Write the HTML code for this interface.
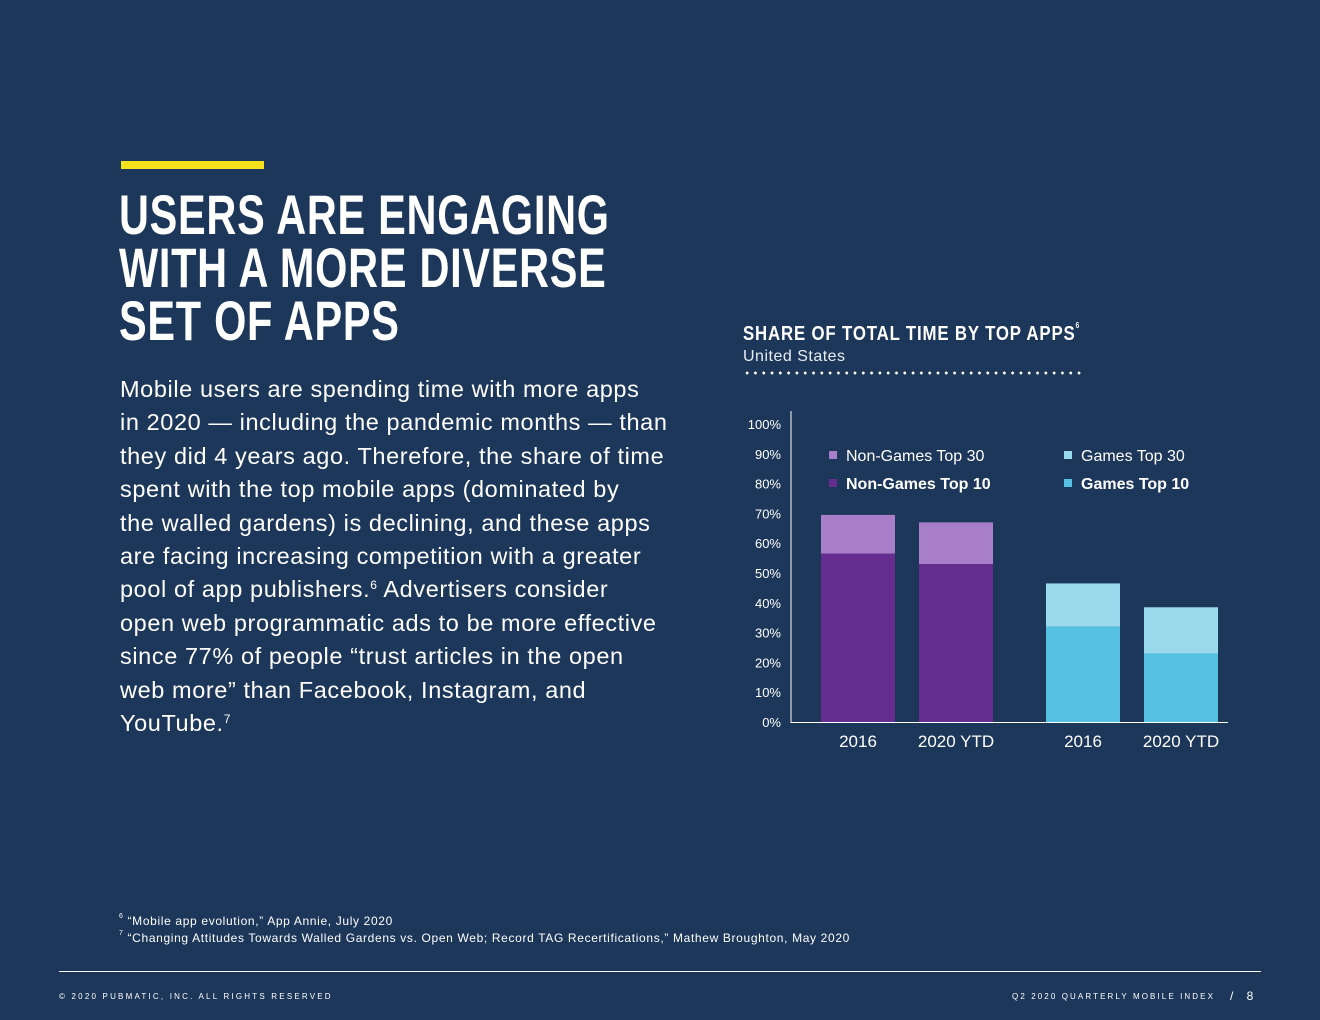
<!DOCTYPE html>
<html><head><meta charset="utf-8"><style>
body{margin:0;width:1320px;height:1020px;background:#1c375a;position:relative;overflow:hidden;font-family:"Liberation Sans",sans-serif;color:#fff}
.abs{position:absolute}
#title{left:119px;top:188px;font-weight:bold;font-size:56px;line-height:53px;letter-spacing:1px;white-space:nowrap;transform:scaleX(0.74);transform-origin:0 0}
#body{left:120px;top:373px;font-size:23.5px;line-height:33.4px;letter-spacing:0.6px;white-space:nowrap}
sup{font-size:12px;vertical-align:top;position:relative;top:-4px}
.fn{left:119px;font-size:12px;letter-spacing:0.65px}
</style></head><body>
<div class="abs" style="left:121px;top:161px;width:143px;height:8px;background:#f7e01c"></div>
<div id="title" class="abs">USERS ARE ENGAGING<br>WITH A MORE DIVERSE<br>SET OF APPS</div>
<div id="body" class="abs">Mobile users are spending time with more apps<br>in 2020 — including the pandemic months — than<br>they did 4 years ago. Therefore, the share of time<br>spent with the top mobile apps (dominated by<br>the walled gardens) is declining, and these apps<br>are facing increasing competition with a greater<br>pool of app publishers.<sup>6</sup> Advertisers consider<br>open web programmatic ads to be more effective<br>since 77% of people “trust articles in the open<br>web more” than Facebook, Instagram, and<br>YouTube.<sup>7</sup></div>
<div class="abs" style="left:743px;top:323px;font-weight:bold;font-size:20px;letter-spacing:1px;transform:scaleX(0.84);transform-origin:0 0;white-space:nowrap">SHARE OF TOTAL TIME BY TOP APPS<sup style="font-size:8px;top:-2px">6</sup></div>
<div class="abs" style="left:743px;top:348px;font-size:16px;letter-spacing:0.5px;color:#e8edf3">United States</div>
<div class="abs" style="left:743px;top:371px;width:342px;height:4px;background:radial-gradient(circle,#fff 1.3px,transparent 1.6px) 0 0/8.3px 4px repeat-x"></div>
<svg class="abs" style="left:0;top:0" width="1320" height="1020" id="chart"></svg>
<div class="abs fn" style="top:914px"><sup style="font-size:7px;top:-1px">6</sup> “Mobile app evolution,” App Annie, July 2020</div>
<div class="abs fn" style="top:931px"><sup style="font-size:7px;top:-1px">7</sup> “Changing Attitudes Towards Walled Gardens vs. Open Web; Record TAG Recertifications,” Mathew Broughton, May 2020</div>
<div class="abs" style="left:59px;top:971px;width:1202px;height:1px;background:#fff"></div>
<div class="abs" style="left:59px;top:992px;font-size:8px;letter-spacing:2.2px">© 2020 PUBMATIC, INC. ALL RIGHTS RESERVED</div>
<div class="abs" style="left:1012px;top:992px;font-size:8px;letter-spacing:2.1px">Q2 2020 QUARTERLY MOBILE INDEX</div>
<div class="abs" style="left:1230px;top:989px;font-size:12px">/&nbsp;&nbsp;&nbsp;&nbsp;8</div>
<script>
const categories=["2016","2020 YTD","2016","2020 YTD"];
const top10=[56.5,53,32,23];
const top30=[69.5,67,46.5,38.5];
const ticks=[0,10,20,30,40,50,60,70,80,90,100];
const barX=[821,919,1046,1144];
const isGames=[false,false,true,true];
const svg=document.getElementById('chart');
const NS='http://www.w3.org/2000/svg';
const y=v=>722-v*2.98;
function mk(t,a){const e=document.createElementNS(NS,t);for(const k in a)e.setAttribute(k,a[k]);svg.appendChild(e);return e;}
ticks.forEach(t=>{const e=mk('text',{x:781,y:y(t)+5,'text-anchor':'end',fill:'#fff','font-size':13,'font-family':'Liberation Sans, sans-serif'});e.textContent=t+'%';

});
categories.forEach((c,i)=>{
const a=mk('rect',{x:barX[i],y:y(top30[i]),width:74,height:y(top10[i])-y(top30[i]),fill:isGames[i]?'#9bd9ec':'#a87ec8'});


const b=mk('rect',{x:barX[i],y:y(top10[i]),width:74,height:722-y(top10[i]),fill:isGames[i]?'#56c1e3':'#662d91'});


const t=mk('text',{x:barX[i]+37,y:747,'text-anchor':'middle',fill:'#fff','font-size':17,'font-family':'Liberation Sans, sans-serif'});t.textContent=c;


});
const ax=mk('path',{d:'M791 411V722.5H1228',stroke:'#fff','stroke-width':1,fill:'none'});


const legend=[["Non-Games Top 30",'#a87ec8',829,455,false],["Non-Games Top 10",'#662d91',829,483,true],["Games Top 30",'#9bd9ec',1064,455,false],["Games Top 10",'#56c1e3',1064,483,true]];
legend.forEach(l=>{const r=mk('rect',{x:l[2],y:l[3]-4,width:8,height:8,fill:l[1]});


const t=mk('text',{x:l[2]+17,y:l[3]+6,fill:'#fff','font-size':16,'font-weight':l[4]?'bold':'normal','font-family':'Liberation Sans, sans-serif'});t.textContent=l[0];

});
</script>
</body></html>
